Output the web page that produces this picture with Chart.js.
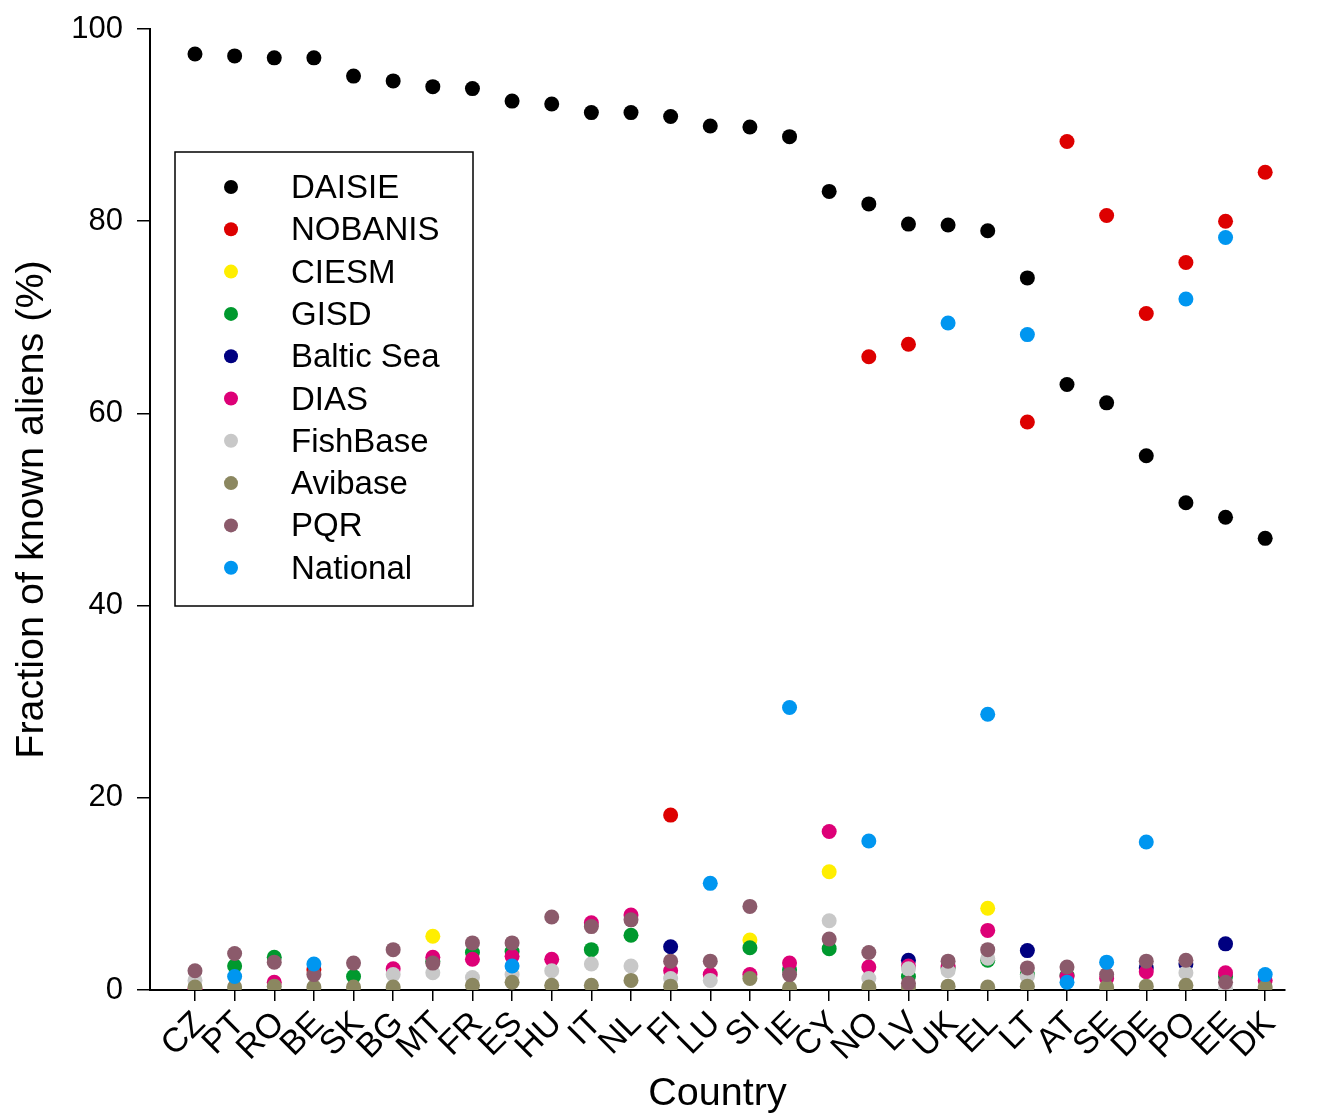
<!DOCTYPE html>
<html><head><meta charset="utf-8">
<script src="https://cdn.jsdelivr.net/npm/chart.js@4/dist/chart.umd.min.js"></script>
<style>html,body{margin:0;padding:0;background:#fff;}canvas{display:block;}</style>
</head><body>
<canvas id="c" width="1326" height="1120"></canvas>
<script>
const countries = ['CZ','PT','RO','BE','SK','BG','MT','FR','ES','HU','IT','NL','FI','LU','SI','IE','CY','NO','LV','UK','EL','LT','AT','SE','DE','PO','EE','DK'];
const yTicks = [0,20,40,60,80,100];
//                 CZ   PT   RO   BE   SK   BG   MT   FR   ES   HU   IT   NL   FI   LU   SI   IE   CY   NO   LV   UK   EL   LT   AT   SE   DE   PO   EE   DK
const daisie   = [97.4,97.2,97.0,97.0,95.1,94.6,94.0,93.8,92.5,92.2,91.3,91.3,90.9,89.9,89.8,88.8,83.1,81.8,79.7,79.6,79.0,74.1,63.0,61.1,55.6,50.7,49.2,47.0];
const nobanis  = [null,null,null,2.1,null,null,null,null,null,null,null,null,18.2,null,null,null,null,65.9,67.2,null,null,59.1,88.3,80.6,70.4,75.7,80.0,85.1];
const ciesm    = [null,null,null,null,null,null,5.6,null,null,null,null,null,null,null,5.2,null,12.3,null,null,null,8.5,null,null,null,null,null,null,null];
const gisd     = [null,2.5,3.4,null,1.4,null,3.0,3.9,4.0,null,4.2,5.7,null,null,4.4,2.1,4.3,null,1.4,2.3,3.1,1.6,1.5,null,null,null,1.4,null];
const baltic   = [null,null,null,null,null,null,null,null,null,null,null,null,4.5,null,null,null,null,null,3.1,null,null,4.1,null,null,2.3,2.7,4.8,null];
const dias     = [0.1,null,0.8,null,null,2.2,3.4,3.2,3.5,3.2,7.0,7.8,2.0,1.6,1.6,2.8,16.5,2.4,2.5,2.5,6.2,null,1.4,1.2,1.9,null,1.8,1.0];
const fishbase = [1.0,null,null,null,null,1.6,1.8,1.3,1.6,2.0,2.7,2.5,1.2,1.0,null,null,7.2,1.2,2.2,2.0,3.3,1.4,null,null,null,1.8,0.2,null];
const avibase  = [0.3,0.3,0.4,0.3,0.3,0.3,null,0.5,0.8,0.5,0.5,1.0,0.4,null,1.2,0.2,null,0.3,0.3,0.4,0.3,0.4,null,0.3,0.4,0.5,null,0.3];
const pqr      = [2.0,3.8,2.9,1.6,2.8,4.2,2.8,4.9,4.9,7.6,6.6,7.3,3.0,3.0,8.7,1.6,5.3,3.9,0.7,3.0,4.2,2.3,2.4,1.6,3.0,3.1,0.8,null];
const national = [null,1.4,null,2.7,null,null,null,null,2.5,null,null,null,null,11.1,null,29.4,null,15.5,null,69.4,28.7,68.2,0.8,2.9,15.4,71.9,78.3,1.6];

const seriesNames  = ['DAISIE','NOBANIS','CIESM','GISD','Baltic Sea','DIAS','FishBase','Avibase','PQR','National'];
const seriesValues = [daisie,nobanis,ciesm,gisd,baltic,dias,fishbase,avibase,pqr,national];
const seriesColors = ['#000000','#dd0000','#ffee00','#00992e','#000080','#dd0077','#c8c8c8','#8b8760','#8b5a6b','#0096f0'];

const FONT = '"Liberation Sans", Arial, sans-serif';

const datasets = seriesNames.map((name, i) => ({
  label: name,
  data: seriesValues[i].map((v, j) => v === null ? null : {x: j, y: v}).filter(p => p !== null),
  backgroundColor: seriesColors[i],
  borderColor: seriesColors[i],
  borderWidth: 0,
  pointRadius: 7.5,
  pointHoverRadius: 7.5,
  showLine: false,
  order: seriesNames.length - i
}));

const boxLegend = {
  id: 'boxLegend',
  afterDraw(chart) {
    const ctx = chart.ctx, a = chart.chartArea;
    const x0 = a.left + 25, y0 = a.top + 123, w = 298, h = 454;
    ctx.save();
    ctx.strokeStyle = '#000';
    ctx.lineWidth = 1.5;
    ctx.strokeRect(x0, y0, w, h);
    ctx.font = '33px ' + FONT;
    ctx.textBaseline = 'middle';
    ctx.textAlign = 'left';
    seriesNames.forEach((name, i) => {
      const y = y0 + 35 + i * 42.3;
      ctx.fillStyle = seriesColors[i];
      ctx.beginPath();
      ctx.arc(x0 + 56, y, 7, 0, Math.PI * 2);
      ctx.fill();
      ctx.fillStyle = '#000';
      ctx.fillText(name, x0 + 116, y + 2);
    });
    ctx.restore();
  }
};

function zeroPad(s) { s.paddingTop = 0; s.paddingBottom = 0; s.paddingLeft = 0; s.paddingRight = 0; }

new Chart(document.getElementById('c'), {
  type: 'scatter',
  data: { datasets },
  options: {
    responsive: false,
    animation: false,
    devicePixelRatio: 1,
    layout: { padding: { top: 29, right: 41, left: 0, bottom: 0 } },
    plugins: { legend: { display: false }, tooltip: { enabled: false } },
    scales: {
      x: {
        type: 'linear',
        min: -1.135,
        max: 27.5,
        afterBuildTicks: s => { s.ticks = countries.map((c, i) => ({ value: i })); },
        afterFit: s => { s.height = 130; zeroPad(s); },
        ticks: {
          callback: v => countries[v],
          autoSkip: false,
          maxRotation: 45,
          minRotation: 45,
          color: '#000',
          font: { size: 34, family: FONT },
          labelOffset: 5,
          padding: 3
        },
        grid: { display: true, drawOnChartArea: false, drawTicks: true, tickLength: 11, color: '#000', lineWidth: 1.5 },
        border: { display: true, color: '#000', width: 2 },
        title: { display: true, text: 'Country', color: '#000', font: { size: 39.5, family: FONT }, padding: { top: 0, bottom: 2 } }
      },
      y: {
        min: 0,
        max: 100,
        afterBuildTicks: s => { s.ticks = yTicks.map(v => ({ value: v })); },
        afterFit: s => { s.width = 150; zeroPad(s); },
        ticks: { color: '#000', font: { size: 31, family: FONT }, padding: 14 },
        grid: { display: true, drawOnChartArea: false, drawTicks: true, tickLength: 13, color: '#000', lineWidth: 1.5 },
        border: { display: true, color: '#000', width: 2 },
        title: { display: true, text: 'Fraction of known aliens (%)', color: '#000', font: { size: 39.5, family: FONT }, padding: { top: 8, bottom: 0 } }
      }
    }
  },
  plugins: [boxLegend]
});
</script>
</body></html>
